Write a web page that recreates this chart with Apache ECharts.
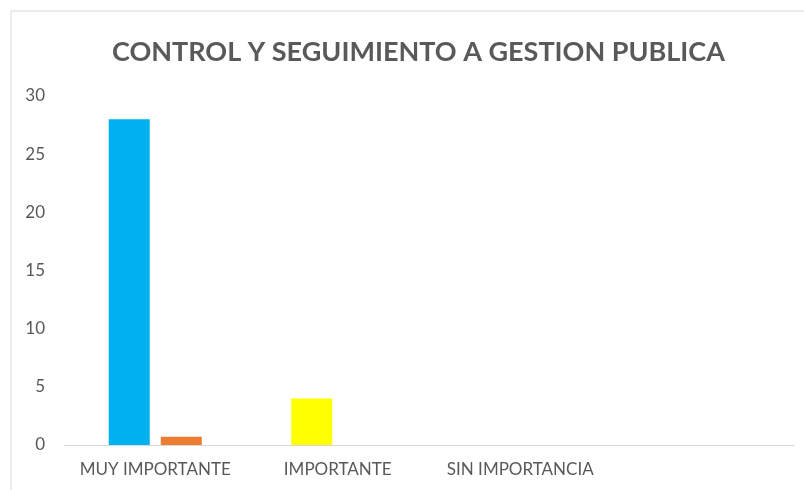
<!DOCTYPE html>
<html><head><meta charset="utf-8">
<script src="https://cdn.jsdelivr.net/npm/echarts@6/dist/echarts.min.js"></script>
<style>html,body{margin:0;padding:0;background:#fff}#c{width:804px;height:490px}</style>
</head><body><div id="c"></div>
<script>
var titleText = 'CONTROL Y SEGUIMIENTO A GESTION PUBLICA';
var categories = ['MUY IMPORTANTE', 'IMPORTANTE', 'SIN IMPORTANCIA', ''];
var series1Values = [28, 4, 0, 0];
var series1Colors = ['#00B0F0', '#FFFF00', '#00B0F0', '#00B0F0'];
var series2Values = [0.7, 0, 0, 0];
var series2Color = '#ED7D31';
var yTicks = {min: 0, max: 30, interval: 5};

var chart = echarts.init(document.getElementById('c'));
chart.setOption({
  animation: false,
  backgroundColor: '#fff',
  graphic: [{type: 'rect', shape: {x: 11, y: 11, width: 900, height: 600}, style: {fill: 'none', stroke: '#D9D9D9', lineWidth: 1}, silent: true}],
  title: {text: titleText, left: 107, top: 34, textStyle: {fontFamily: 'Lato', fontWeight: 'bold', fontSize: 27, color: '#595959'}},
  grid: {left: 64, right: 10, top: 96, bottom: 45, containLabel: false},
  xAxis: {type: 'category', data: categories,
    axisLine: {lineStyle: {color: '#D9D9D9', width: 1}}, axisTick: {show: false},
    axisLabel: {color: '#595959', fontFamily: 'Lato', fontSize: 17, margin: 16, interval: 0}},
  yAxis: {type: 'value', min: yTicks.min, max: yTicks.max, interval: yTicks.interval,
    splitLine: {show: false}, axisLine: {show: false}, axisTick: {show: false},
    axisLabel: {color: '#595959', fontFamily: 'Lato', fontSize: 17, margin: 19}},
  series: [
    {type: 'bar', barWidth: 41, barGap: '27%', data: series1Values.map(function(v, i){return {value: v, itemStyle: {color: series1Colors[i]}};})},
    {type: 'bar', barWidth: 41, barGap: '27%', itemStyle: {color: series2Color}, data: series2Values}
  ]
});
</script></body></html>
